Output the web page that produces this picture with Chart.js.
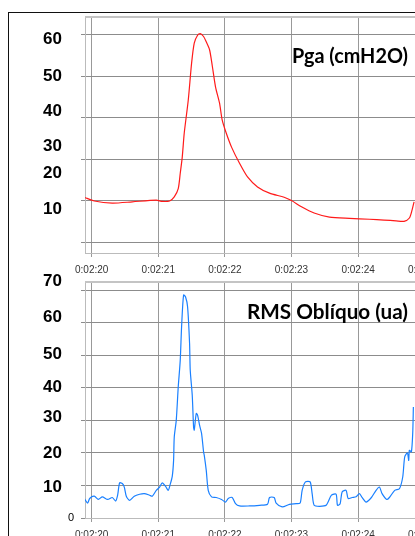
<!DOCTYPE html>
<html>
<head>
<meta charset="utf-8">
<script src="https://cdn.jsdelivr.net/npm/chart.js@4.4.1/dist/chart.umd.min.js"></script>
<style>
  html, body { margin: 0; padding: 0; background: #fff; overflow: hidden; width: 415px; height: 536px; }
  #frame { position: absolute; left: 8px; top: 12px; width: 600px; height: 700px; border: 1px solid #111; }
  canvas { position: absolute; left: 0; }
</style>
</head>
<body>
<div id="frame"></div>
<canvas id="pgaChart" width="470" height="278" style="top:0"></canvas>
<canvas id="rmsChart" width="470" height="281" style="top:262px"></canvas>
<script>
// time in seconds (140 = 0:02:20)
const pgaTime = [139.89,140.04,140.31,140.61,140.97,141.06,141.17,141.24,141.30,141.33,
  141.36,141.39,141.45,141.50,141.54,141.59,141.63,141.68,141.72,141.77,
  141.81,141.86,141.92,141.96,142.02,142.10,142.22,142.34,142.49,142.67,
  142.89,143.00,143.15,143.34,143.57,143.87,144.17,144.39,144.57,144.69,
  144.77,144.81,144.84];
const pgaValue = [20.8,19.9,19.4,19.7,20.1,19.8,19.9,20.9,22.9,26.6,
  30.5,36.3,44.2,53.1,58.0,59.9,60.3,59.6,58.3,56.4,
  52.6,47.4,43.5,39.4,36.3,32.9,29.0,25.7,23.3,21.8,
  20.8,20.0,18.5,17.0,16.0,15.7,15.5,15.3,15.1,15.0,
  15.8,17.7,19.7];

const rmsTime = [139.89,139.94,139.97,140.04,140.10,140.16,140.24,140.31,140.36,140.39,
  140.42,140.46,140.49,140.52,140.57,140.64,140.72,140.79,140.87,140.91,
  140.97,141.02,141.06,141.11,141.15,141.18,141.21,141.23,141.24,141.27,
  141.30,141.33,141.35,141.38,141.41,141.44,141.47,141.48,141.51,141.53,
  141.54,141.57,141.59,141.62,141.65,141.68,141.69,141.72,141.75,141.80,
  141.87,141.95,142.01,142.05,142.11,142.16,142.22,142.37,142.52,142.64,
  142.67,142.74,142.77,142.86,142.97,143.07,143.13,143.16,143.21,143.28,
  143.31,143.34,143.42,143.52,143.60,143.67,143.69,143.73,143.76,143.82,
  143.85,143.91,143.97,144.02,144.06,144.12,144.20,144.27,144.32,144.36,
  144.43,144.47,144.55,144.62,144.67,144.70,144.74,144.76,144.77,144.80,
  144.82,144.83];
const rmsValue = [6.0,4.6,6.0,6.7,5.7,6.5,5.7,6.3,5.2,7.0,
  10.8,10.6,9.5,6.7,5.4,6.7,7.3,7.5,7.0,6.7,
  8.5,9.5,10.8,9.7,8.5,10.4,12.8,17.7,24.9,30.0,
  40.3,48.5,58.7,68.5,67.9,64.9,53.6,45.4,37.7,28.0,
  27.0,32.1,31.6,28.5,26.0,20.3,19.3,14.7,8.5,6.5,
  6.3,5.7,4.9,6.0,6.3,4.4,3.7,3.7,3.9,4.2,
  6.3,6.3,4.6,3.4,4.2,4.4,4.6,8.5,11.1,11.1,
  7.5,3.9,3.6,3.9,7.0,7.3,3.9,4.4,8.0,8.5,
  6.0,6.3,6.5,7.5,6.3,4.9,6.3,8.5,9.5,7.5,
  5.7,6.3,8.5,9.0,12.6,18.8,20.0,17.7,20.8,20.3,
  26.0,34.1];

// tick labels written beside each plot
const pgaLabels = ['60','50','40','30','20','10'];
const rmsLabels = ['70','60','50','40','30','20','10','0'];
const pgaTitle = 'Pga (cmH2O)';
const rmsTitle = 'RMS Oblíquo (ua)';

const fmtTime = v => '0:02:' + String(Math.round(v) - 120).padStart(2, '0');

// hand-placed labels, like the overlaid text boxes in the original
function overlay(labels, ys, title, titleY, titleW) {
  return {
    id: 'overlay',
    beforeDatasetsDraw(chart) {
      const a = chart.chartArea, ctx = chart.ctx;
      ctx.save();
      ctx.strokeStyle = '#c4c4c4';
      ctx.lineWidth = 2;
      ctx.beginPath();
      ctx.moveTo(a.left, a.top);
      ctx.lineTo(a.right, a.top);
      ctx.stroke();
      ctx.restore();
    },
    afterDraw(chart) {
      const ctx = chart.ctx;
      ctx.save();
      ctx.fillStyle = '#000';
      ctx.textAlign = 'right';
      ctx.textBaseline = 'middle';
      labels.forEach((t, i) => {
        if (t === '0') {
          ctx.font = '11px "Liberation Sans"';
          ctx.fillText(t, 74, ys[i]);
        } else {
          ctx.font = 'bold 17px "Liberation Sans"';
          ctx.fillText(t, 62, ys[i]);
        }
      });
      ctx.font = 'bold 21px Lato';
      ctx.textBaseline = 'alphabetic';
      ctx.fillText(title, 408, titleY, titleW);
      ctx.restore();
    }
  };
}

function makeChart(id, xs, ys, color, yMin, yMax, padTop, plugin) {
  return new Chart(document.getElementById(id).getContext('2d'), {
    type: 'line',
    data: {
      datasets: [{
        data: xs.map((x, i) => ({ x: x, y: ys[i] })),
        borderColor: color,
        borderWidth: 1.2,
        pointRadius: 0,
        tension: 0.25,
        fill: false
      }]
    },
    options: {
      responsive: false,
      animation: false,
      layout: { padding: { top: padTop, right: 0, left: 0, bottom: 0 } },
      scales: {
        x: {
          type: 'linear',
          min: 139.9,
          max: 145.68,
          afterFit: s => { s.height = 25; },
          ticks: {
            stepSize: 1,
            includeBounds: false,
            maxRotation: 0,
            padding: 7,
            color: '#333',
            font: { family: '"Liberation Sans"', size: 10 },
            callback: fmtTime
          },
          grid: { color: '#999', lineWidth: 1, tickLength: 4 },
          border: { color: '#bbb', width: 1 }
        },
        y: {
          min: yMin,
          max: yMax,
          afterFit: s => { s.width = 85; },
          ticks: { stepSize: 10, includeBounds: false, display: false },
          grid: { color: '#8c8c8c', lineWidth: 1, tickLength: 4 },
          border: { color: '#bbb', width: 1 }
        }
      },
      plugins: {
        legend: { display: false },
        tooltip: { enabled: false }
      }
    },
    plugins: [plugin]
  });
}

makeChart('pgaChart', pgaTime, pgaValue, '#ff1a1a', 7.35, 64.3, 17,
  overlay(pgaLabels, [39, 76, 111.5, 146, 173.5, 209], pgaTitle, 63, 116));
makeChart('rmsChart', rmsTime, rmsValue, '#1a80ff', 0, 72.5, 20,
  overlay(rmsLabels, [19, 55.5, 92, 125.5, 155.5, 191, 225, 256], rmsTitle, 56.5, 161));
</script>
</body>
</html>
